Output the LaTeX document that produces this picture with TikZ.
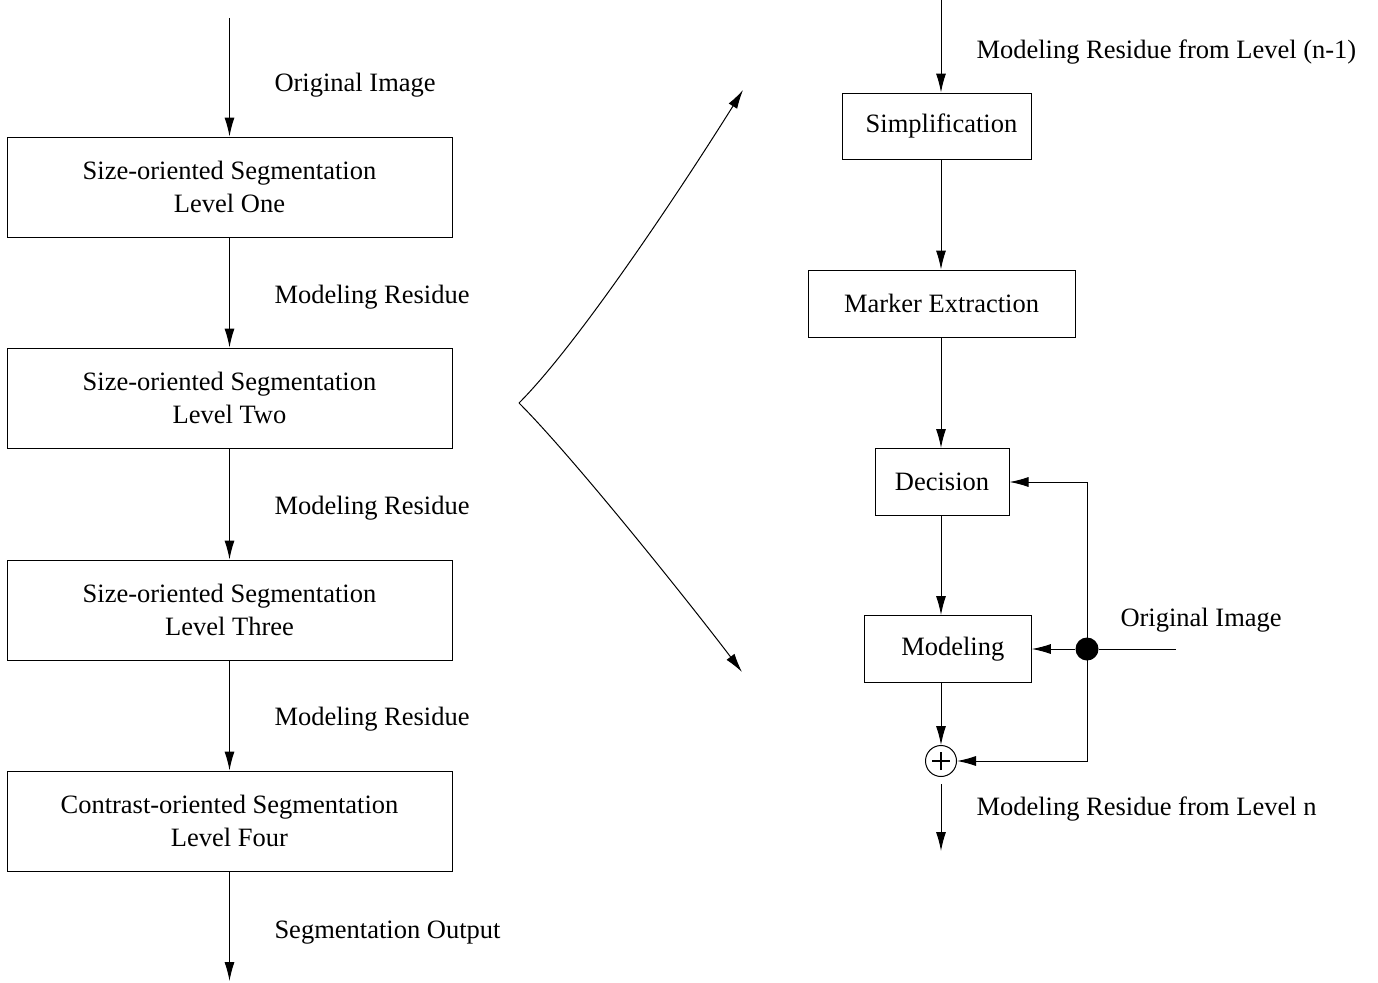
\documentclass[tikz,border=0pt]{standalone}
\usepackage{fontspec}
\setmainfont{Liberation Serif}
\usetikzlibrary{arrows.meta}
\begin{document}
\begin{tikzpicture}[x=1pt,y=-1pt,
  font=\fontsize{26.5}{33}\selectfont,
  line width=1pt,
  arr/.style={-{Latex[length=19pt,width=10pt]}},
  blk/.style={draw, rectangle, inner sep=0pt, align=center},
  lbl/.style={anchor=base west, inner sep=0pt},
]
\useasboundingbox (0,0) rectangle (1378,982);

% ---- left column: the four segmentation levels ----
\node[blk, minimum width=445pt, minimum height=100pt] (l1) at (229.5,187) {Size-oriented Segmentation\\Level One};
\node[blk, minimum width=445pt, minimum height=100pt] (l2) at (229.5,398) {Size-oriented Segmentation\\Level Two};
\node[blk, minimum width=445pt, minimum height=100pt] (l3) at (229.5,610) {Size-oriented Segmentation\\Level Three};
\node[blk, minimum width=445pt, minimum height=100pt] (l4) at (229.5,821) {Contrast-oriented Segmentation\\Level Four};
\coordinate (lin) at (229.5,18);
\coordinate (lout) at (229.5,981);

\draw[arr] (lin) -- (l1.north);
\draw[arr] (l1.south) -- (l2.north);
\draw[arr] (l2.south) -- (l3.north);
\draw[arr] (l3.south) -- (l4.north);
\draw[arr] (l4.south) -- (lout);

\node[lbl] (t0) at (274,92) {Original Image};
\node[lbl] (t1) at (274,303) {Modeling Residue};
\node[lbl] (t2) at (274,514) {Modeling Residue};
\node[lbl] (t3) at (274,725) {Modeling Residue};
\node[lbl] (t4) at (274,938) {Segmentation Output};

% ---- expansion lines ----
\coordinate (cusp) at (519,403);
\coordinate (tipU) at (743,90);
\coordinate (tipD) at (742,672);
\draw[arr] (cusp) .. controls (579,343) and (683,186) .. (tipU);
\draw[arr] (cusp) .. controls (574,458) and (692,606) .. (tipD);

% ---- right column: one level in detail ----
\coordinate (cx) at (941,0);
\node[blk, minimum width=189pt, minimum height=66pt] (simp) at (936.5,126) {\hspace*{10pt}Simplification};
\node[blk, minimum width=267pt, minimum height=67pt] (mark) at (941.5,303.5) {Marker Extraction};
\node[blk, minimum width=134pt, minimum height=67pt] (dec) at (942,482) {Decision};
\node[blk, minimum width=167pt, minimum height=67pt] (mod) at (947.8,649) {\hspace*{10pt}Modeling};
\node[draw, circle, inner sep=0pt, minimum size=31pt] (plus) at (941,761) {};
\node[fill, circle, inner sep=0pt, minimum size=23pt] (dot) at (1087,649) {};
\coordinate (rin) at (941,0);
\coordinate (rout) at (941,851);
\coordinate (orig) at (1176,649);

% plus sign inside the summing junction
\draw[line width=1.3pt] ([xshift=-9pt]plus.center) -- ([xshift=9pt]plus.center);
\draw[line width=1.3pt] ([yshift=-9pt]plus.center) -- ([yshift=9pt]plus.center);

\draw[arr] (rin) -- (simp.north -| cx);
\draw[arr] (simp.south -| cx) -- (mark.north -| cx);
\draw[arr] (mark.south -| cx) -- (dec.north -| cx);
\draw[arr] (dec.south -| cx) -- (mod.north -| cx);
\draw[arr] (mod.south -| cx) -- (plus.north);
\draw[arr] ([yshift=-7pt]plus.south) -- (rout);

\draw (orig) -- (dot);
\draw[arr] (dot) -- (mod.east);
\draw[arr] (dot.center) |- (dec.east);
\draw[arr] (dot.center) |- (plus.east);

\node[lbl] (r0) at (976,59) {Modeling Residue from Level (n-1)};
\node[lbl] (r1) at (1120,626) {Original Image};
\node[lbl] (r2) at (976,815) {Modeling Residue from Level n};
\end{tikzpicture}
\end{document}
